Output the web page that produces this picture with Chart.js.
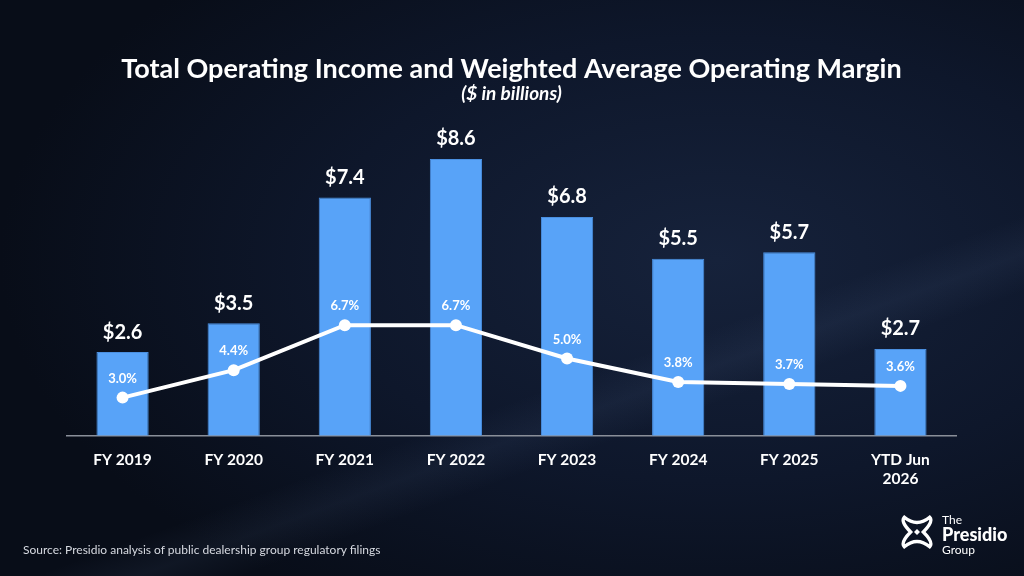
<!DOCTYPE html>
<html>
<head>
<meta charset="utf-8">
<script src="https://cdn.jsdelivr.net/npm/chart.js@4"></script>
<style>
  html, body { margin: 0; padding: 0; }
  body {
    width: 1024px; height: 576px; overflow: hidden; position: relative;
    background:
      linear-gradient(160deg, rgba(255,255,255,0) 62%, rgba(120,150,200,0.07) 66%, rgba(255,255,255,0) 70%),
      radial-gradient(ellipse 70% 70% at 70% 45%, #16223b 0%, #0e172b 55%, #080d18 100%);
    font-family: Lato, "Open Sans", sans-serif;
  }
  #wrap { position: absolute; left: 0; top: 0; width: 1024px; height: 576px; }
  .source { position: absolute; left: 23px; top: 542px; color: #d6d9e0; font-size: 12px; }
  .logo { position: absolute; left: 898px; top: 512px; width: 120px; height: 50px; }
  .logo svg { position: absolute; left: 0; top: 1px; }
  .logo .txt { position: absolute; left: 44px; top: 1px; color: #fff; line-height: 13px; font-size: 12px; }
  .logo .txt b { font-size: 18px; font-weight: 900; display: block; line-height: 17px; }
</style>
</head>
<body>
<div id="wrap"><canvas id="chart" width="1024" height="576"></canvas></div>
<div class="source">Source: Presidio analysis of public dealership group regulatory filings</div>
<div class="logo">
  <svg width="38" height="38" viewBox="0 0 36 36">
    <g fill="none" stroke="#fff" stroke-width="3.2" stroke-linecap="round">
      <path d="M6 4 Q18 14 30 4 Q34 8 24 18 Q34 28 30 32 Q18 22 6 32 Q2 28 12 18 Q2 8 6 4 Z"/>
    </g>
    <rect x="16" y="16" width="4" height="4" fill="#fff" transform="rotate(45 18 18)"/>
  </svg>
  <div class="txt">The<b>Presidio</b>Group</div>
</div>
<script>
const categories = ['FY 2019', 'FY 2020', 'FY 2021', 'FY 2022', 'FY 2023', 'FY 2024', 'FY 2025', ['YTD Jun', '2026']];
const incomeBillions = [2.6, 3.5, 7.4, 8.6, 6.8, 5.5, 5.7, 2.7];
const marginPct = [3.0, 4.4, 6.7, 6.7, 5.0, 3.8, 3.7, 3.6];

// value labels over bars and points
const labelPlugin = {
  id: 'labels',
  afterDatasetsDraw(chart) {
    const ctx = chart.ctx;
    ctx.save();
    ctx.fillStyle = '#ffffff';
    ctx.textAlign = 'center';
    ctx.textBaseline = 'middle';
    ctx.font = 'bold 20px Lato';
    chart.getDatasetMeta(0).data.forEach((bar, i) => {
      ctx.fillText('$' + incomeBillions[i].toFixed(1), bar.x, bar.y - 20);
    });
    ctx.font = 'bold 13px Lato';
    chart.getDatasetMeta(1).data.forEach((pt, i) => {
      ctx.fillText(marginPct[i].toFixed(1) + '%', pt.x, pt.y - 19);
    });
    ctx.restore();
  }
};

new Chart(document.getElementById('chart'), {
  data: {
    labels: categories,
    datasets: [
      {
        type: 'bar',
        data: incomeBillions,
        yAxisID: 'y',
        backgroundColor: '#58a3f8',
        borderColor: '#4a8fe0',
        borderWidth: 1,
        barPercentage: 0.47,
        categoryPercentage: 1,
        order: 2
      },
      {
        type: 'line',
        data: marginPct,
        yAxisID: 'y2',
        borderColor: '#ffffff',
        borderWidth: 4,
        pointRadius: 6,
        pointBackgroundColor: '#ffffff',
        pointBorderWidth: 0,
        tension: 0,
        order: 1
      }
    ]
  },
  options: {
    responsive: false,
    animation: false,
    layout: { padding: { top: 56, left: 67, right: 68, bottom: 73 } },
    plugins: {
      legend: { display: false },
      tooltip: { enabled: false },
      title: {
        display: true,
        text: 'Total Operating Income and Weighted Average Operating Margin',
        color: '#ffffff',
        font: { family: 'Lato', size: 27, weight: 'bold', lineHeight: 1 },
        padding: { top: 0, bottom: 0 }
      },
      subtitle: {
        display: true,
        text: '($ in billions)',
        color: '#ffffff',
        font: { family: 'Lato', size: 19, weight: 'bold', style: 'italic', lineHeight: 1 },
        padding: { top: 1, bottom: 27 }
      }
    },
    scales: {
      x: {
        grid: { display: false, drawTicks: false },
        border: { display: true, color: '#8a8f99', width: 1.5 },
        ticks: {
          color: '#ffffff',
          padding: 15,
          font: { family: 'Lato', size: 15.5, weight: 'bold' }
        }
      },
      y: { display: false, min: 0, max: 9.5 },
      y2: { display: false, min: 1.05, max: 16.67 }
    }
  },
  plugins: [labelPlugin]
});
</script>
</body>
</html>
